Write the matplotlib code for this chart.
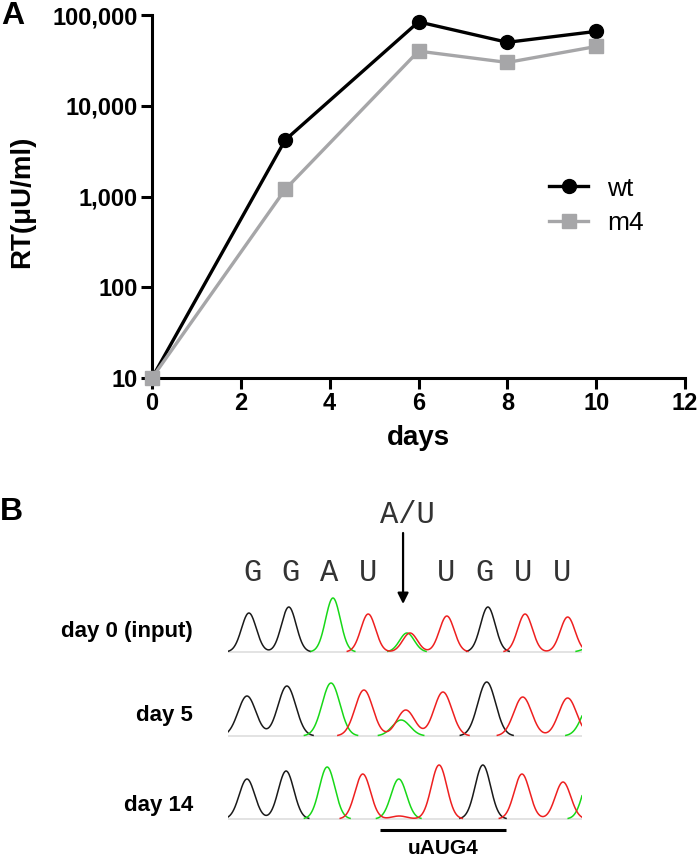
import matplotlib
matplotlib.use("Agg")
import matplotlib.pyplot as plt
import numpy as np
from matplotlib.ticker import FuncFormatter, FixedLocator

plt.rcParams['font.family'] = ['Liberation Sans', 'DejaVu Sans']

# ---- panel A data: RT activity (uU/ml) over days
days = [0, 3, 6, 8, 10]
wt = [10, 4200, 84000, 50000, 66000]
m4 = [10, 1200, 40000, 30000, 45000]

# ---- panel B data: chromatogram peaks (position in base units, height)
bases = ['G', 'G', 'A', 'U', '', 'U', 'G', 'U', 'U']
row_labels = ['day 0 (input)', 'day 5', 'day 14']

day0_G = ([-0.08, 0.95, 6.09], [39, 45, 45])
day0_A = ([2.09, 4.00, 8.75], [54, 19, 5])
day0_U = ([3.00, 4.08, 5.03, 7.05, 8.15], [38, 19, 36, 38, 35])

day5_G = ([-0.13, 0.90, 6.06], [40, 50, 54])
day5_A = ([2.04, 3.85, 8.75], [53, 16, 33])
day5_U = ([2.89, 3.97, 4.93, 6.99, 8.15], [46, 26, 44, 39, 38])

day14_G = ([-0.13, 0.88, 5.96], [40, 48, 54])
day14_A = ([1.94, 3.79, 8.75], [52, 40, 45])
day14_U = ([2.86, 3.80, 4.83, 6.97, 8.03], [45, 3, 54, 45, 37])

rows = [(day0_G, day0_A, day0_U), (day5_G, day5_A, day5_U), (day14_G, day14_A, day14_U)]
row_sigma = [0.19, 0.23, 0.20]

W, H = 700, 859
fig = plt.figure(figsize=(W / 100, H / 100), dpi=100)

# ================= panel A
ax = fig.add_axes([152 / W, 1 - 378 / H, 533 / W, 363 / H])
ax.plot(days, wt, '-o', color='black', lw=2.4, markersize=10, label='wt', zorder=3)
ax.plot(days, m4, '-s', color='#a6a6a8', lw=2.4, markersize=10, label='m4', zorder=4)
ax.set_yscale('log')
ax.set_ylim(10, 100000)
ax.set_xlim(0, 12)
ax.yaxis.set_major_locator(FixedLocator([10, 100, 1000, 10000, 100000]))
ax.yaxis.set_minor_locator(FixedLocator([]))
ax.yaxis.set_major_formatter(FuncFormatter(lambda v, p: f"{v:,.0f}"))
ax.set_xticks([0, 2, 4, 6, 8, 10, 12])
for s in ['top', 'right']:
    ax.spines[s].set_visible(False)
for s in ['left', 'bottom']:
    ax.spines[s].set_linewidth(2.2)
ax.tick_params(direction='out', length=8, width=2.2, labelsize=17, pad=2)
for lab in ax.get_xticklabels() + ax.get_yticklabels():
    lab.set_fontweight('bold')
for ln in ax.lines:
    ln.set_clip_on(False)
ax.set_xlabel('days', fontsize=20, fontweight='bold')
ax.xaxis.set_label_coords(0.5, -0.13)
ax.set_ylabel('RT(\u03bcU/ml)', fontsize=20, fontweight='bold')
ax.yaxis.set_label_coords(-0.22, 0.485)
ax.legend(loc='upper left', bbox_to_anchor=(0.70, 0.62), frameon=False,
          fontsize=19, handlelength=1.5, handletextpad=0.7, labelspacing=0.4)

fig.text(13 / W, 1 - 16 / H, 'A', fontsize=23, fontweight='bold', ha='center', va='center')
fig.text(11 / W, 1 - 512 / H, 'B', fontsize=23, fontweight='bold', ha='center', va='center')

# ================= panel B
axb = fig.add_axes([228 / W, 0, 354 / W, 360 / H])
axb.set_xlim(-0.62, 8.52)
axb.set_ylim(859, 499)
axb.axis('off')

baselines = [652, 736, 819]
label_y = [632, 715, 805]
colors = ['#1a1a1a', '#18d818', '#ee2020']
x = np.linspace(-0.62, 8.52, 900)
for r, (chans, base_y, sig) in enumerate(zip(rows, baselines, row_sigma)):
    axb.plot([-0.62, 8.52], [base_y, base_y], color='#dedede', lw=1.2, zorder=1)
    for (pos, hts), c in zip(chans, colors):
        y = np.zeros_like(x)
        for p, h in zip(pos, hts):
            y += h * np.exp(-(x - p) ** 2 / (2 * sig ** 2))
        y = np.where(y < 0.6, np.nan, y)
        axb.plot(x, base_y - y, color=c, lw=1.1, zorder=2)
    axb.text(-1.52, label_y[r], row_labels[r], fontsize=16, fontweight='bold',
             ha='right', va='center', clip_on=False)

for i, b in enumerate(bases):
    if b:
        axb.text(i, 573, b, family='Liberation Mono', fontsize=22, color='#333333',
                 ha='center', va='center')
axb.text(4.0, 515, 'A/U', family='Liberation Mono', fontsize=22, color='#333333',
         ha='center', va='center')
axb.annotate('', xy=(3.9, 604), xytext=(3.9, 533),
             arrowprops=dict(arrowstyle='-|>', lw=1.6, color='black',
                             mutation_scale=16, shrinkA=0, shrinkB=0))
axb.plot([3.3, 6.55], [830, 830], color='black', lw=2.2, solid_capstyle='butt')
axb.text(4.93, 849, 'uAUG4', fontsize=15, fontweight='bold', ha='center', va='center')

fig.savefig('out.png', dpi=100)
